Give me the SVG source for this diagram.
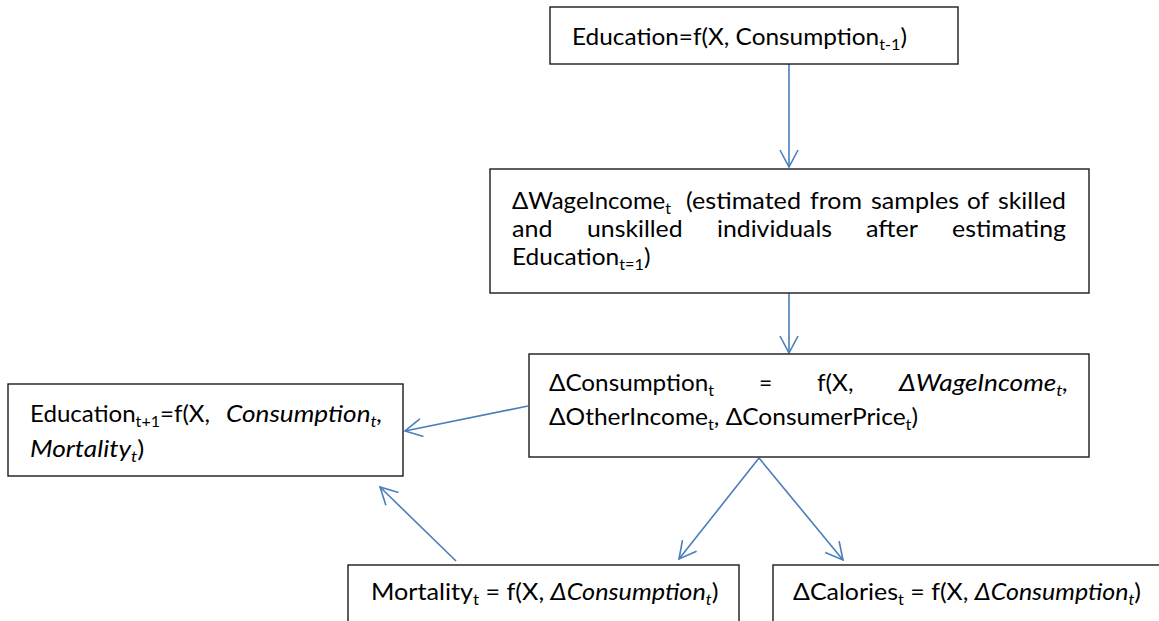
<svg xmlns="http://www.w3.org/2000/svg" width="1159" height="621" viewBox="0 0 1159 621">
<style>
.box{fill:#fff;stroke:#1a1a1a;stroke-width:1.4}
.t{font-family:Lato,"Liberation Sans",sans-serif;font-size:24px;fill:#000}
.i{font-style:italic}
.s{font-size:16px}
.c{stroke:#4a7ebb;stroke-width:1.6;fill:none}
</style>
<defs>
<marker id="ah" markerUnits="userSpaceOnUse" viewBox="0 0 20 20" refX="19" refY="10" markerWidth="20" markerHeight="20" orient="auto">
<path d="M2,1 L19,10 L2,19" fill="none" stroke="#4a7ebb" stroke-width="1.6"/>
</marker>
</defs>
<g id="connectors">
<line class="c" x1="789" y1="64" x2="789" y2="167" marker-end="url(#ah)"/>
<line class="c" x1="789" y1="293" x2="789" y2="353" marker-end="url(#ah)"/>
<line class="c" x1="528" y1="406" x2="405" y2="431" marker-end="url(#ah)"/>
<line class="c" x1="456" y1="561" x2="380" y2="487" marker-end="url(#ah)"/>
<line class="c" x1="759" y1="458" x2="679" y2="559" marker-end="url(#ah)"/>
<line class="c" x1="759" y1="458" x2="843" y2="560" marker-end="url(#ah)"/>
</g>
<g id="n-education">
<rect class="box" x="550" y="7" width="408" height="57"/>
<text class="t" x="572" y="45" textLength="335" lengthAdjust="spacingAndGlyphs">Education=f(X, Consumption<tspan class="s" dy="5">t-1</tspan><tspan dy="-5">)</tspan></text>
</g>
<g id="n-wage">
<rect class="box" x="490" y="169" width="599" height="124"/>
<text class="t" x="512" y="209" textLength="159" lengthAdjust="spacingAndGlyphs">ΔWageIncome<tspan class="s" dy="5">t</tspan></text>
<text class="t" x="686" y="209" textLength="115" lengthAdjust="spacingAndGlyphs">(estimated</text>
<text class="t" x="810" y="209" textLength="52" lengthAdjust="spacingAndGlyphs">from</text>
<text class="t" x="871" y="209" textLength="88" lengthAdjust="spacingAndGlyphs">samples</text>
<text class="t" x="967" y="209" textLength="22" lengthAdjust="spacingAndGlyphs">of</text>
<text class="t" x="998" y="209" textLength="68" lengthAdjust="spacingAndGlyphs">skilled</text>
<text class="t" x="512" y="237" textLength="40.5" lengthAdjust="spacingAndGlyphs">and</text>
<text class="t" x="587" y="237" textLength="95.6" lengthAdjust="spacingAndGlyphs">unskilled</text>
<text class="t" x="717" y="237" textLength="115" lengthAdjust="spacingAndGlyphs">individuals</text>
<text class="t" x="866" y="237" textLength="52" lengthAdjust="spacingAndGlyphs">after</text>
<text class="t" x="952" y="237" textLength="114" lengthAdjust="spacingAndGlyphs">estimating</text>
<text class="t" x="512" y="265" textLength="138.5" lengthAdjust="spacingAndGlyphs">Education<tspan class="s" dy="5">t=1</tspan><tspan dy="-5">)</tspan></text>
</g>
<g id="n-consumption">
<rect class="box" x="529" y="354" width="560" height="103"/>
<text class="t" x="549" y="391" textLength="165" lengthAdjust="spacingAndGlyphs">ΔConsumption<tspan class="s" dy="5">t</tspan></text>
<text class="t" x="759" y="391" textLength="13.2" lengthAdjust="spacingAndGlyphs">=</text>
<text class="t" x="817" y="391" textLength="36.5" lengthAdjust="spacingAndGlyphs">f(X,</text>
<text class="t i" x="899" y="391" textLength="169.4" lengthAdjust="spacingAndGlyphs">ΔWageIncome<tspan class="s" dy="5">t</tspan><tspan dy="-5">,</tspan></text>
<text class="t" x="549" y="425" textLength="369" lengthAdjust="spacingAndGlyphs">ΔOtherIncome<tspan class="s" dy="5">t</tspan><tspan dy="-5">, ΔConsumerPrice</tspan><tspan class="s" dy="5">t</tspan><tspan dy="-5">)</tspan></text>
</g>
<g id="n-education-next">
<rect class="box" x="8" y="384" width="395" height="92"/>
<text class="t" x="30" y="422" textLength="180" lengthAdjust="spacingAndGlyphs">Education<tspan class="s" dy="5">t+1</tspan><tspan dy="-5">=f(X,</tspan></text>
<text class="t i" x="226" y="422" textLength="156.6" lengthAdjust="spacingAndGlyphs">Consumption<tspan class="s" dy="5">t</tspan><tspan dy="-5">,</tspan></text>
<text class="t" x="30" y="457" textLength="114.3" lengthAdjust="spacingAndGlyphs"><tspan class="i">Mortality</tspan><tspan class="s i" dy="5">t</tspan><tspan dy="-5">)</tspan></text>
</g>
<g id="n-mortality">
<rect class="box" x="348" y="565" width="391" height="80"/>
<text class="t" x="371" y="600" textLength="347.5" lengthAdjust="spacingAndGlyphs">Mortality<tspan class="s" dy="5">t</tspan><tspan dy="-5"> = f(X, </tspan><tspan class="i">ΔConsumption</tspan><tspan class="s i" dy="5">t</tspan><tspan dy="-5">)</tspan></text>
</g>
<g id="n-calories">
<rect class="box" x="773" y="565" width="400" height="80"/>
<text class="t" x="793" y="600" textLength="348" lengthAdjust="spacingAndGlyphs">ΔCalories<tspan class="s" dy="5">t</tspan><tspan dy="-5"> = f(X, </tspan><tspan class="i">ΔConsumption</tspan><tspan class="s i" dy="5">t</tspan><tspan dy="-5">)</tspan></text>
</g>
</svg>
